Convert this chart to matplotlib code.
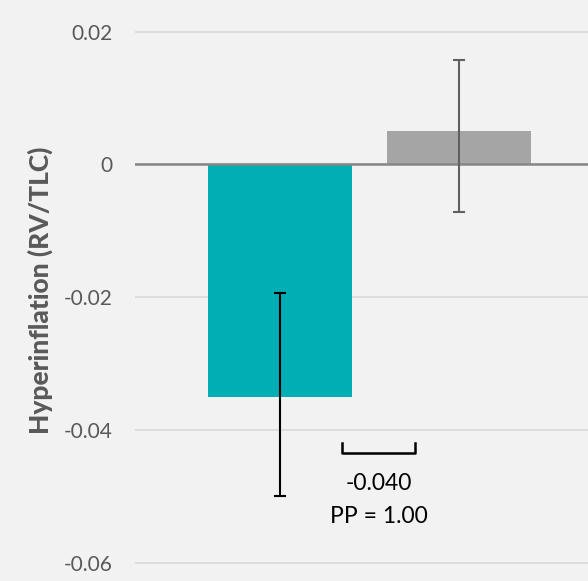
import matplotlib
matplotlib.use("Agg")
import matplotlib.pyplot as plt

categories = ["Treatment", "Placebo"]
values = [-0.035, 0.005]
err_low = [-0.050, -0.0071]
err_high = [-0.0193, 0.0158]
bar_colors = ["#00aeb3", "#a5a5a5"]
err_colors = ["#000000", "#606060"]
yticks = [0.02, 0.0, -0.02, -0.04, -0.06]
ytick_labels = ["0.02", "0", "-0.02", "-0.04", "-0.06"]
diff_label = "-0.040"
pp_label = "PP = 1.00"

plt.rcParams['font.family'] = ['Lato', 'DejaVu Sans']

fig = plt.figure(figsize=(5.88, 5.81), dpi=100)
fig.patch.set_facecolor("#f2f2f2")
ax = fig.add_axes([135/588, 0, 1 - 135/588, 1])
ax.set_facecolor("#f2f2f2")

x = list(range(len(categories)))
ax.bar(x, values, width=0.8, color=bar_colors, zorder=2)
for xi, v, lo, hi, ec in zip(x, values, err_low, err_high, err_colors):
    ax.errorbar([xi], [v], yerr=[[v - lo], [hi - v]], fmt='none', ecolor=ec,
                elinewidth=1.5, capsize=4.5, capthick=1.5, zorder=3)

ax.set_xlim(-0.81, 1.72)
ax.set_ylim(-0.06275, 0.02478)
ax.set_yticks(yticks)
ax.set_yticklabels(ytick_labels)
ax.set_xticks([])
ax.yaxis.grid(True, color="#d9d9d9", linewidth=1.2, zorder=0)
ax.set_axisbelow(True)
ax.axhline(0, color="#868686", linewidth=1.8, zorder=2.5)
for s in ax.spines.values():
    s.set_visible(False)
ax.tick_params(axis='y', length=0, pad=16, labelsize=15, labelcolor="#595959")

ax.set_ylabel("Hyperinflation (RV/TLC)", fontsize=19, fontweight='black',
              color="#595959", labelpad=8)

# bracket annotation
bx0, bx1 = 0.346, 0.754
by_top, by_bot = -0.0420, -0.0434
ax.plot([bx0, bx0, bx1, bx1], [by_top, by_bot, by_bot, by_top],
        color="black", linewidth=1.8, zorder=4)
ax.text((bx0 + bx1) / 2, -0.0481, diff_label, ha='center', va='center',
        fontsize=16.5, color="black")
ax.text((bx0 + bx1) / 2, -0.0531, pp_label, ha='center', va='center',
        fontsize=16.5, color="black")

fig.savefig("out.png", dpi=100, facecolor=fig.get_facecolor())
